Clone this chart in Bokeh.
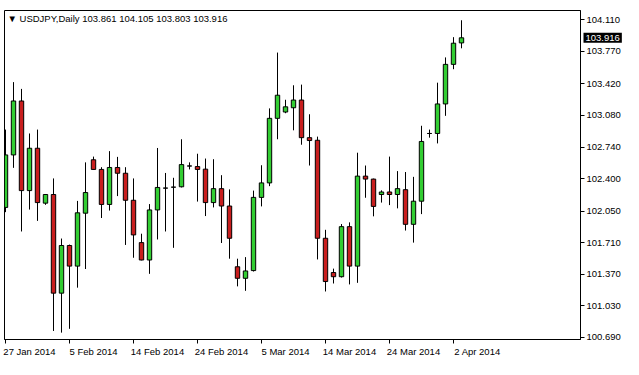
import datetime as dt
from bokeh.plotting import figure
from bokeh.models import ColumnDataSource, FixedTicker, Range1d, LinearAxis, Label, PrintfTickFormatter
from bokeh.embed import file_html
from bokeh.resources import INLINE

symbol = "USDJPY"
timeframe = "Daily"

dates = [
    "2014-01-27", "2014-01-28", "2014-01-29", "2014-01-30", "2014-01-31", "2014-02-02",
    "2014-02-03", "2014-02-04", "2014-02-05", "2014-02-06", "2014-02-07", "2014-02-09",
    "2014-02-10", "2014-02-11", "2014-02-12", "2014-02-13", "2014-02-14", "2014-02-16",
    "2014-02-17", "2014-02-18", "2014-02-19", "2014-02-20", "2014-02-21", "2014-02-23",
    "2014-02-24", "2014-02-25", "2014-02-26", "2014-02-27", "2014-02-28", "2014-03-02",
    "2014-03-03", "2014-03-04", "2014-03-05", "2014-03-06", "2014-03-07", "2014-03-09",
    "2014-03-10", "2014-03-11", "2014-03-12", "2014-03-13", "2014-03-14", "2014-03-16",
    "2014-03-17", "2014-03-18", "2014-03-19", "2014-03-20", "2014-03-21", "2014-03-23",
    "2014-03-24", "2014-03-25", "2014-03-26", "2014-03-27", "2014-03-28", "2014-03-30",
    "2014-03-31", "2014-04-01", "2014-04-02", "2014-04-03",
]

opens = [
    102.090, 102.655, 103.236, 102.271, 102.727, 102.136, 102.229, 101.167, 101.680, 101.458,
    102.028, 102.603, 102.499, 102.122, 102.520, 102.458, 102.167, 101.711, 101.524, 102.063,
    102.298, 102.308, 102.312, 102.536, 102.530, 102.502, 102.142, 102.292, 102.105, 101.451,
    101.327, 101.410, 102.198, 102.354, 103.049, 103.117, 103.163, 103.246, 102.841, 102.813,
    101.758, 101.389, 101.344, 101.883, 101.458, 102.427, 102.395, 102.229, 102.256, 102.229,
    102.281, 101.908, 102.157, 102.886, 102.886, 103.204, 103.630, 103.861,
]
highs = [
    102.928, 103.439, 103.366, 102.886, 102.928, 102.229, 102.402, 101.755, 101.690, 102.160,
    102.575, 102.637, 102.523, 102.696, 102.634, 102.523, 102.402, 101.807, 102.126, 102.730,
    102.461, 102.409, 102.824, 102.575, 102.668, 102.616, 102.609, 102.437, 102.284, 101.538,
    101.555, 102.271, 102.544, 103.156, 103.757, 103.249, 103.405, 103.412, 103.093, 102.852,
    101.849, 101.431, 101.911, 101.929, 102.679, 102.541, 102.400, 102.274, 102.637, 102.481,
    102.471, 102.419, 102.969, 102.928, 103.433, 103.705, 103.923, 104.105,
]
lows = [
    102.039, 102.516, 101.831, 102.067, 101.945, 102.118, 100.760, 100.742, 100.783, 101.226,
    101.427, 102.495, 101.976, 102.056, 102.212, 101.686, 101.548, 101.520, 101.375, 101.745,
    101.831, 101.655, 102.305, 102.499, 102.153, 101.997, 102.090, 101.707, 101.538, 101.240,
    101.192, 101.400, 102.101, 102.319, 102.824, 103.104, 102.920, 102.765, 102.541, 101.530,
    101.185, 101.271, 101.335, 101.261, 101.278, 102.194, 101.994, 102.142, 102.115, 102.080,
    101.841, 101.711, 102.018, 102.841, 102.779, 103.076, 103.578, 103.803,
]
closes = [
    102.655, 103.236, 102.271, 102.727, 102.142, 102.229, 101.167, 101.680, 101.458, 102.032,
    102.250, 102.499, 102.122, 102.520, 102.458, 102.167, 101.794, 101.524, 102.063, 102.305,
    102.298, 102.308, 102.551, 102.536, 102.499, 102.142, 102.292, 102.105, 101.758, 101.327,
    101.406, 102.198, 102.354, 103.049, 103.298, 103.173, 103.246, 102.841, 102.810, 101.758,
    101.292, 101.344, 101.883, 101.458, 102.427, 102.395, 102.101, 102.256, 102.229, 102.292,
    101.908, 102.157, 102.800, 102.886, 103.204, 103.630, 103.858, 103.916,
]

price_ticks = [100.690, 101.030, 101.370, 101.710, 102.050, 102.400,
               102.740, 103.080, 103.420, 103.770, 104.110]
date_ticks = ["2014-01-27", "2014-02-05", "2014-02-14", "2014-02-24",
              "2014-03-05", "2014-03-14", "2014-03-24", "2014-04-02"]

BULL = "#32CD32"
BEAR = "#C81E1E"
FONT = "Liberation Sans"

idx = list(range(len(dates)))
tops = [max(o, c) for o, c in zip(opens, closes)]
bots = [min(o, c) for o, c in zip(opens, closes)]
cols = [BULL if c >= o else BEAR for o, c in zip(opens, closes)]

src = ColumnDataSource(dict(x=idx, high=highs, low=lows, top=tops, bottom=bots, color=cols))

p = figure(width=623, height=359, output_backend="svg", toolbar_location=None,
           x_range=Range1d(-0.125, 71.875), y_range=Range1d(100.668, 104.21),
           x_axis_location=None, y_axis_location=None,
           min_border_left=4, min_border_right=0, min_border_top=0, min_border_bottom=0)
p.xgrid.visible = False
p.ygrid.visible = False
p.background_fill_color = "white"
p.border_fill_color = "white"
p.outline_line_color = "black"
p.outline_line_width = 1

# right price axis
yaxis = LinearAxis(ticker=FixedTicker(ticks=price_ticks, minor_ticks=[]),
                   formatter=PrintfTickFormatter(format="%.3f"))
yaxis.axis_line_color = "black"
yaxis.major_tick_line_color = "black"
yaxis.major_tick_out = 4
yaxis.major_tick_in = 0
yaxis.minor_tick_out = 0
yaxis.major_label_standoff = 2
yaxis.major_label_text_font = FONT
yaxis.major_label_text_font_size = "9.5px"
yaxis.major_label_text_color = "black"
p.add_layout(yaxis, "right")

# bottom date axis: tick marks at the dates (minor), labels shifted right (major)
tick_pos = [dates.index(d) for d in date_ticks]
LABEL_SHIFT = 3
tick_text = {}
for d, i in zip(date_ticks, tick_pos):
    dd = dt.date.fromisoformat(d)
    tick_text[i + LABEL_SHIFT] = f"{dd.day} {dd.strftime('%b %Y')}"
xaxis = LinearAxis(ticker=FixedTicker(ticks=[i + LABEL_SHIFT for i in tick_pos], minor_ticks=tick_pos))
xaxis.major_label_overrides = tick_text
xaxis.axis_line_color = "black"
xaxis.major_tick_out = 0
xaxis.major_tick_in = 0
xaxis.minor_tick_out = 4
xaxis.minor_tick_in = 0
xaxis.minor_tick_line_color = "black"
xaxis.major_label_standoff = 2
xaxis.major_label_text_font = FONT
xaxis.major_label_text_font_size = "9.5px"
xaxis.major_label_text_color = "black"
p.add_layout(xaxis, "below")

# candles
p.segment(x0="x", y0="high", x1="x", y1="low", source=src, line_color="black", line_width=1)
p.vbar(x="x", width=0.55, top="top", bottom="bottom", source=src,
       fill_color="color", line_color="black", line_width=1)

# header
header = f"\u25bc {symbol},{timeframe}  {opens[-1]:.3f} {highs[-1]:.3f} {lows[-1]:.3f} {closes[-1]:.3f}"
p.add_layout(Label(x=p.x_range.start, y=p.y_range.end, x_units="data", y_units="data",
                   x_offset=3, y_offset=-2, text=header, text_baseline="top",
                   text_font=FONT, text_font_size="9.5px", text_color="black"))

# current price box on the right axis: placed in a side panel so it is not clipped to the frame
price_label = Label(x=p.x_range.end, y=closes[-1], x_units="data", y_units="data",
                    x_offset=3, text=f"{closes[-1]:.3f}", text_baseline="middle",
                    text_font=FONT, text_font_size="9.5px", text_color="white",
                    background_fill_color="black", padding=2)
p.add_layout(price_label, "above")

open("out.html", "w").write(file_html(p, INLINE))
